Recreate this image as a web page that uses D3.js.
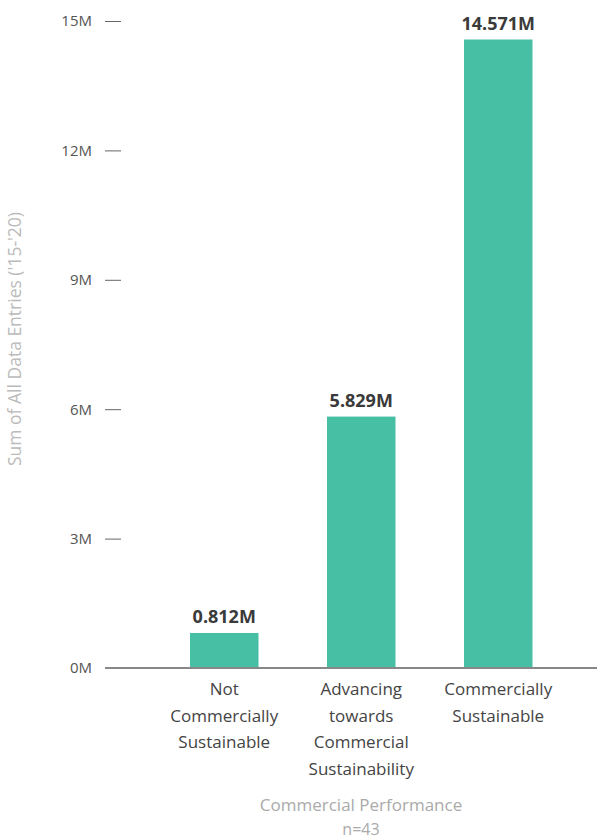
<!DOCTYPE html>
<html>
<head>
<meta charset="utf-8">
<script src="https://cdn.jsdelivr.net/npm/d3@7"></script>
<style>
  html, body { margin: 0; padding: 0; background: #fff; }
  svg { display: block; font-family: "Open Sans", "Lato", sans-serif; }
</style>
</head>
<body>
<svg id="chart" width="597" height="839"></svg>
<script>
// Sum of data entries by commercial performance group
const categories = [
  ["Not", "Commercially", "Sustainable"],
  ["Advancing", "towards", "Commercial", "Sustainability"],
  ["Commercially", "Sustainable"]
];
const values = [0.812, 5.829, 14.571];
const valueLabels = ["0.812M", "5.829M", "14.571M"];
const tickValues = [0, 3, 6, 9, 12, 15];
const tickLabels = ["0M", "3M", "6M", "9M", "12M", "15M"];

const svg = d3.select("#chart");
const plotLeft = 121, plotRight = 597, plotTop = 21, plotBottom = 668;

const x = d3.scaleBand()
  .domain(d3.range(values.length))
  .range([121.5, 601])
  .paddingInner(0.5)
  .paddingOuter(0.5);

const y = d3.scaleLinear().domain([0, 15]).range([plotBottom, plotTop]);

// Y axis: short tick marks with labels, no domain line
const yAxis = d3.axisLeft(y)
  .tickValues(tickValues)
  .tickFormat((d, i) => tickLabels[i])
  .tickSize(16)
  .tickPadding(13);

const yg = svg.append("g").attr("transform", `translate(${plotLeft},0)`).call(yAxis);
yg.select(".domain").remove();
yg.selectAll(".tick line").attr("stroke", "#666").attr("stroke-width", 1);
yg.selectAll(".tick text")
  .attr("fill", "#555")
  .style("font-size", "15px")
  .style("font-family", "'Open Sans', sans-serif");

// Bars
svg.append("g").selectAll("rect")
  .data(values)
  .join("rect")
  .attr("x", (d, i) => x(i))
  .attr("width", x.bandwidth())
  .attr("y", d => y(d))
  .attr("height", d => y(0) - y(d))
  .attr("fill", "#46bfa5");

// Value labels above bars
svg.append("g").selectAll("text")
  .data(values)
  .join("text")
  .attr("x", (d, i) => x(i) + x.bandwidth() / 2)
  .attr("y", d => y(d) - 10)
  .attr("text-anchor", "middle")
  .attr("fill", "#3a3a3a")
  .style("font-size", "18px")
  .style("font-weight", "700")
  .text((d, i) => valueLabels[i]);

// Baseline
svg.append("line")
  .attr("x1", 105).attr("x2", plotRight)
  .attr("y1", y(0)).attr("y2", y(0))
  .attr("stroke", "#888")
  .attr("stroke-width", 2);

// Category labels, wrapped onto several lines
const cat = svg.append("g").selectAll("text")
  .data(categories)
  .join("text")
  .attr("text-anchor", "middle")
  .attr("fill", "#444")
  .style("font-size", "17px");
cat.each(function(lines, i) {
  const t = d3.select(this);
  lines.forEach((ln, k) => {
    t.append("tspan")
      .attr("x", x(i) + x.bandwidth() / 2)
      .attr("y", 695 + k * 26.5)
      .text(ln);
  });
});

// X axis title and sample size
const cx = (plotLeft + plotRight) / 2 + 2;
svg.append("text")
  .attr("x", cx).attr("y", 811)
  .attr("text-anchor", "middle")
  .attr("fill", "#aaa")
  .style("font-size", "17px")
  .text("Commercial Performance");
svg.append("text")
  .attr("x", cx).attr("y", 835)
  .attr("text-anchor", "middle")
  .attr("fill", "#aaa")
  .style("font-size", "16px")
  .text("n=43");

// Y axis title
svg.append("text")
  .attr("transform", "translate(21,339) rotate(-90)")
  .attr("text-anchor", "middle")
  .attr("fill", "#bbb")
  .style("font-size", "17.5px")
  .text("Sum of All Data Entries ('15-'20)");
</script>
</body>
</html>
